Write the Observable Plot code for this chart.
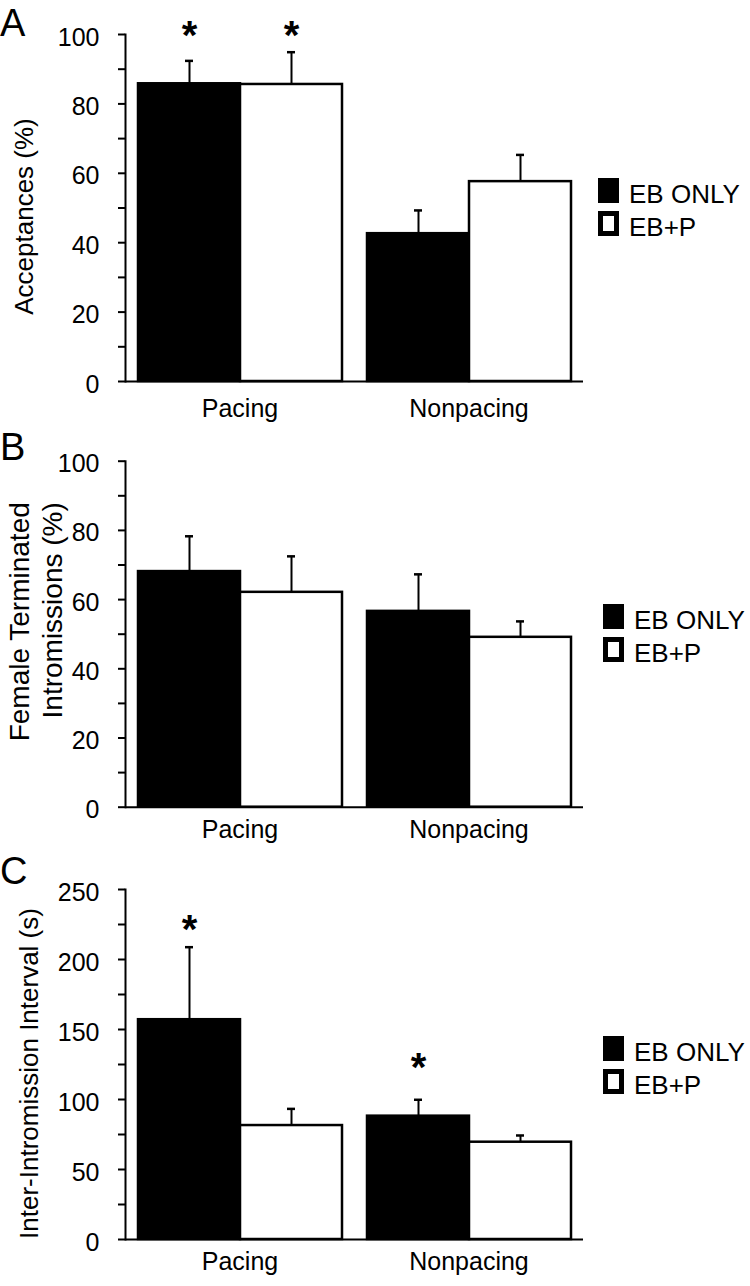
<!DOCTYPE html>
<html>
<head>
<meta charset="utf-8">
<script src="https://cdn.jsdelivr.net/npm/d3@7"></script>
<script src="https://cdn.jsdelivr.net/npm/@observablehq/plot@0.6"></script>
<style>
  body { margin: 0; background: #fff; font-family: "Liberation Sans", Arial, sans-serif; color: #000; }
  #root { position: relative; width: 750px; height: 1286px; overflow: hidden; background: #fff; }
  .panel { position: absolute; left: 0; }
  .letter { position: absolute; left: 0; font-size: 38px; line-height: 1; }
  .legend { position: absolute; }
  .row { position: absolute; left: 0; height: 25px; white-space: nowrap; }
  .sw { position: absolute; left: 0; top: 0; width: 21px; height: 25px; box-sizing: border-box; border: 5px solid #000; }
  .lab { position: absolute; top: 3px; left: 31px; font-size: 26px; line-height: 1; }
</style>
</head>
<body>
<div id="root"></div>
<script>
const FONT = '"Liberation Sans", Arial, sans-serif';

// ---- shared categories ----
const categories = ["Pacing", "Nonpacing"];
const treatments = ["EB ONLY", "EB+P"];

// ---- Panel A: Acceptances (%) ----
const accEB = [85.8, 42.6];
const accEBsem = [6.6, 6.7];
const accEBP = [85.6, 57.6];
const accEBPsem = [9.3, 7.7];
const accStarCat = ["Pacing", "Pacing"];
const accStarTrt = ["EB ONLY", "EB+P"];
const accStarY = [100.7, 100.7];
const accTicks = [0, 10, 20, 30, 40, 50, 60, 70, 80, 90, 100];
const accLabels = [0, 20, 40, 60, 80, 100];

// ---- Panel B: Female terminated intromissions (%) ----
const ftiEB = [68.1, 56.6];
const ftiEBsem = [10.2, 10.7];
const ftiEBP = [62.1, 49.1];
const ftiEBPsem = [10.4, 4.6];
const ftiTicks = [0, 10, 20, 30, 40, 50, 60, 70, 80, 90, 100];
const ftiLabels = [0, 20, 40, 60, 80, 100];

// ---- Panel C: Inter-intromission interval (s) ----
const iiiEB = [157, 88.1];
const iiiEBsem = [51.8, 11.7];
const iiiEBP = [81.4, 69.5];
const iiiEBPsem = [11.9, 4.8];
const iiiStarCat = ["Pacing", "Nonpacing"];
const iiiStarTrt = ["EB ONLY", "EB ONLY"];
const iiiStarY = [224, 125.7];
const iiiTicks = [0, 25, 50, 75, 100, 125, 150, 175, 200, 225, 250];
const iiiLabels = [0, 50, 100, 150, 200, 250];

function rowsOf(eb, ebSem, ebp, ebpSem) {
  const out = [];
  categories.forEach((c, i) => {
    out.push({cat: c, trt: treatments[0], mean: eb[i], hi: eb[i] + ebSem[i]});
    out.push({cat: c, trt: treatments[1], mean: ebp[i], hi: ebp[i] + ebpSem[i]});
  });
  return out;
}
function starsOf(cats, trts, ys) {
  return cats.map((c, i) => ({cat: c, trt: trts[i], y: ys[i]}));
}

function panel(cfg) {
  return Plot.plot({
    width: 750,
    height: cfg.height,
    marginLeft: 125,
    marginRight: 167,
    marginTop: cfg.mt,
    marginBottom: cfg.mb,
    style: {fontFamily: FONT, color: "#000", background: "#fff", overflow: "visible"},
    fx: {domain: categories, padding: 0, label: null},
    x: {domain: treatments, paddingInner: 0, paddingOuter: 0.1225, axis: null},
    y: {domain: cfg.domain},
    color: {domain: treatments, range: ["#000", "#fff"]},
    marks: [
      Plot.ruleY([cfg.domain[0]], {stroke: "#000", strokeWidth: 2}),
      Plot.barY(cfg.rows, {fx: "cat", x: "trt", y: "mean", fill: "trt", stroke: "#000", strokeWidth: 2.5}),
      Plot.ruleX(cfg.rows, {fx: "cat", x: "trt", y1: "mean", y2: "hi", stroke: "#000", strokeWidth: 2}),
      Plot.tickY(cfg.rows, {fx: "cat", x: "trt", y: "hi", stroke: "#000", strokeWidth: 2.5, insetLeft: 47, insetRight: 47}),
      Plot.frame({anchor: "left", facetAnchor: "left", stroke: "#000", strokeWidth: 2}),
      Plot.axisY(cfg.ticks, {tickSize: 7, tickFormat: () => "", strokeWidth: 2, label: null}),
      Plot.axisY(cfg.labels, {tickSize: 0, tickPadding: 26, dy: 3, fontSize: 25, label: null}),
      Plot.axisFx({anchor: "bottom", tickSize: 0, tickPadding: cfg.fxPad, fontSize: 25, label: null}),
      Plot.text(cfg.stars, {fx: "cat", x: "trt", y: "y", text: () => "*", fontSize: 40, fontWeight: "bold", dy: 4.5}),
      Plot.text([{cat: categories[0], t: cfg.title}], {
        fx: "cat", text: "t", frameAnchor: "left", rotate: -90,
        dx: cfg.tdx, dy: cfg.tdy, fontSize: cfg.tsize, lineAnchor: "bottom",
        textAnchor: cfg.tanchor, lineHeight: cfg.lh
      })
    ]
  });
}

const root = document.getElementById("root");

function place(svgEl, top) {
  const d = document.createElement("div");
  d.className = "panel";
  d.style.top = top + "px";
  d.appendChild(svgEl);
  root.appendChild(d);
}
function letter(t, top) {
  const d = document.createElement("div");
  d.className = "letter";
  d.style.top = top + "px";
  d.textContent = t;
  root.appendChild(d);
}
function legend(left, top, gap) {
  const lg = document.createElement("div");
  lg.className = "legend";
  lg.style.left = left + "px";
  lg.style.top = top + "px";
  treatments.forEach((t, i) => {
    const r = document.createElement("div");
    r.className = "row";
    r.style.top = (i * gap) + "px";
    const sw = document.createElement("div");
    sw.className = "sw";
    sw.style.background = i === 0 ? "#000" : "#fff";
    const lab = document.createElement("div");
    lab.className = "lab";
    lab.textContent = t;
    r.appendChild(sw);
    r.appendChild(lab);
    lg.appendChild(r);
  });
  root.appendChild(lg);
}

place(panel({
  height: 425, mt: 34, mb: 44, domain: [0, 100],
  rows: rowsOf(accEB, accEBsem, accEBP, accEBPsem),
  stars: starsOf(accStarCat, accStarTrt, accStarY),
  ticks: accTicks, labels: accLabels, fxPad: 18,
  title: "Acceptances (%)", tdx: -93, tdy: 8.5, tsize: 26, tanchor: "middle", lh: 1
}), 0);

place(panel({
  height: 430, mt: 35.7, mb: 48.3, domain: [0, 100],
  rows: rowsOf(ftiEB, ftiEBsem, ftiEBP, ftiEBPsem),
  stars: [],
  ticks: ftiTicks, labels: ftiLabels, fxPad: 13.5,
  title: "Female Terminated\nIntromissions (%)", tdx: -64, tdy: -132, tsize: 28, tanchor: "end", lh: 1.15
}), 425);

place(panel({
  height: 431, mt: 34, mb: 47, domain: [0, 250],
  rows: rowsOf(iiiEB, iiiEBsem, iiiEBP, iiiEBPsem),
  stars: starsOf(iiiStarCat, iiiStarTrt, iiiStarY),
  ticks: iiiTicks, labels: iiiLabels, fxPad: 13,
  title: "Inter-Intromission Interval (s)", tdx: -88, tdy: 9, tsize: 26, tanchor: "middle", lh: 1
}), 855);

letter("A", 4);
letter("B", 428);
letter("C", 852);

legend(598, 178, 32.5);
legend(603, 603.5, 33);
legend(603, 1036, 33);
</script>
</body>
</html>
